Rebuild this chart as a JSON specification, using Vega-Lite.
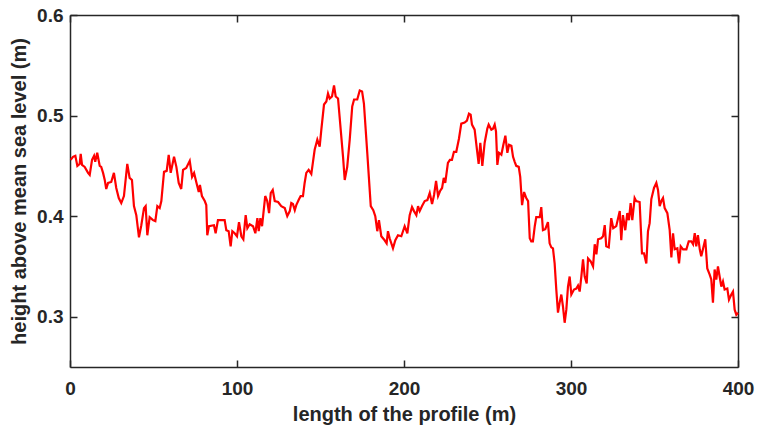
{
  "$schema": "https://vega.github.io/schema/vega-lite/v6.json",
  "width": 668,
  "height": 352,
  "autosize": "none",
  "padding": {"left": 70, "top": 15, "right": 23, "bottom": 61},
  "background": "white",
  "data": {"values": [
    {"x":0.4,"y":0.456},{"x":1.8,"y":0.459},{"x":3.2,"y":0.460},{"x":4.4,"y":0.450},{"x":5.8,"y":0.452},{"x":6.4,"y":0.462},{"x":7.2,"y":0.451},{"x":8.8,"y":0.449},{"x":10.8,"y":0.443},{"x":11.8,"y":0.441},
    {"x":13.2,"y":0.456},{"x":14.4,"y":0.460},{"x":15.1,"y":0.454},{"x":16.3,"y":0.463},{"x":17.8,"y":0.450},{"x":18.7,"y":0.449},{"x":19.8,"y":0.443},{"x":20.8,"y":0.436},{"x":21.7,"y":0.427},{"x":22.8,"y":0.433},
    {"x":24.7,"y":0.434},{"x":26.3,"y":0.443},{"x":27.7,"y":0.428},{"x":29.2,"y":0.418},{"x":30.7,"y":0.413},{"x":32.3,"y":0.420},{"x":34.3,"y":0.452},{"x":35.7,"y":0.438},{"x":37.1,"y":0.436},{"x":38.3,"y":0.410},
    {"x":39.7,"y":0.401},{"x":41.3,"y":0.379},{"x":42.7,"y":0.391},{"x":44.3,"y":0.408},{"x":45.3,"y":0.410},{"x":46.3,"y":0.381},{"x":47.7,"y":0.399},{"x":49.7,"y":0.396},{"x":51.1,"y":0.395},{"x":52.3,"y":0.410},
    {"x":53.7,"y":0.408},{"x":54.7,"y":0.415},{"x":56.3,"y":0.444},{"x":57.9,"y":0.445},{"x":59.1,"y":0.461},{"x":60.3,"y":0.443},{"x":62.3,"y":0.459},{"x":63.7,"y":0.449},{"x":65.1,"y":0.433},{"x":66.6,"y":0.427},
    {"x":67.7,"y":0.446},{"x":69.6,"y":0.448},{"x":71.7,"y":0.455},{"x":73.1,"y":0.439},{"x":74.3,"y":0.443},{"x":75.6,"y":0.434},{"x":77.1,"y":0.424},{"x":77.8,"y":0.431},{"x":79.0,"y":0.420},{"x":80.7,"y":0.415},
    {"x":81.6,"y":0.411},{"x":82.2,"y":0.381},{"x":83.2,"y":0.390},{"x":86.2,"y":0.391},{"x":87.2,"y":0.383},{"x":88.6,"y":0.396},{"x":91.6,"y":0.396},{"x":92.6,"y":0.396},{"x":93.6,"y":0.386},{"x":95.0,"y":0.385},
    {"x":96.2,"y":0.370},{"x":97.2,"y":0.385},{"x":98.6,"y":0.383},{"x":100.0,"y":0.380},{"x":101.2,"y":0.394},{"x":102.6,"y":0.380},{"x":103.8,"y":0.377},{"x":105.2,"y":0.401},{"x":106.2,"y":0.388},{"x":107.6,"y":0.392},
    {"x":109.6,"y":0.390},{"x":111.0,"y":0.383},{"x":112.2,"y":0.398},{"x":113.0,"y":0.385},{"x":114.0,"y":0.398},{"x":115.0,"y":0.390},{"x":115.7,"y":0.401},{"x":116.9,"y":0.420},{"x":118.1,"y":0.415},{"x":119.2,"y":0.403},
    {"x":120.2,"y":0.423},{"x":121.4,"y":0.426},{"x":122.6,"y":0.415},{"x":124.6,"y":0.414},{"x":126.5,"y":0.410},{"x":128.6,"y":0.408},{"x":130.1,"y":0.400},{"x":131.6,"y":0.405},{"x":132.5,"y":0.413},{"x":133.5,"y":0.412},
    {"x":134.6,"y":0.406},{"x":135.5,"y":0.411},{"x":136.9,"y":0.416},{"x":138.1,"y":0.420},{"x":139.5,"y":0.420},{"x":140.5,"y":0.433},{"x":141.5,"y":0.443},{"x":142.9,"y":0.446},{"x":144.5,"y":0.442},{"x":145.5,"y":0.454},
    {"x":146.5,"y":0.466},{"x":148.1,"y":0.476},{"x":149.5,"y":0.469},{"x":150.5,"y":0.486},{"x":152.1,"y":0.511},{"x":153.5,"y":0.514},{"x":154.5,"y":0.522},{"x":155.5,"y":0.517},{"x":156.9,"y":0.519},{"x":158.1,"y":0.530},
    {"x":159.1,"y":0.519},{"x":160.5,"y":0.517},{"x":162.1,"y":0.486},{"x":163.5,"y":0.459},{"x":164.5,"y":0.436},{"x":166.0,"y":0.449},{"x":167.5,"y":0.476},{"x":169.0,"y":0.509},{"x":170.1,"y":0.516},{"x":172.0,"y":0.516},
    {"x":173.5,"y":0.525},{"x":174.9,"y":0.524},{"x":176.0,"y":0.512},{"x":178.0,"y":0.463},{"x":180.1,"y":0.410},{"x":181.6,"y":0.406},{"x":182.8,"y":0.400},{"x":184.0,"y":0.385},{"x":185.0,"y":0.396},{"x":186.4,"y":0.380},
    {"x":188.4,"y":0.376},{"x":189.6,"y":0.373},{"x":190.4,"y":0.385},{"x":191.4,"y":0.378},{"x":193.4,"y":0.368},{"x":194.8,"y":0.376},{"x":196.4,"y":0.381},{"x":198.4,"y":0.380},{"x":200.4,"y":0.390},{"x":202.0,"y":0.383},
    {"x":203.4,"y":0.401},{"x":204.8,"y":0.409},{"x":206.0,"y":0.405},{"x":207.4,"y":0.401},{"x":208.4,"y":0.410},{"x":209.4,"y":0.405},{"x":210.8,"y":0.410},{"x":212.4,"y":0.415},{"x":214.0,"y":0.416},{"x":215.4,"y":0.423},
    {"x":216.8,"y":0.412},{"x":218.0,"y":0.421},{"x":219.2,"y":0.435},{"x":220.4,"y":0.420},{"x":221.6,"y":0.425},{"x":222.8,"y":0.428},{"x":223.8,"y":0.438},{"x":224.7,"y":0.433},{"x":226.3,"y":0.453},{"x":227.5,"y":0.456},
    {"x":228.7,"y":0.456},{"x":229.9,"y":0.464},{"x":231.3,"y":0.464},{"x":232.9,"y":0.477},{"x":234.3,"y":0.492},{"x":236.3,"y":0.493},{"x":237.7,"y":0.495},{"x":238.9,"y":0.502},{"x":239.9,"y":0.501},{"x":240.7,"y":0.491},
    {"x":242.3,"y":0.486},{"x":243.7,"y":0.466},{"x":244.7,"y":0.452},{"x":245.7,"y":0.473},{"x":246.9,"y":0.450},{"x":248.3,"y":0.473},{"x":249.9,"y":0.487},{"x":250.7,"y":0.491},{"x":252.3,"y":0.486},{"x":253.3,"y":0.487},
    {"x":254.3,"y":0.491},{"x":255.1,"y":0.484},{"x":255.9,"y":0.451},{"x":256.9,"y":0.463},{"x":258.3,"y":0.461},{"x":259.5,"y":0.471},{"x":260.7,"y":0.480},{"x":261.9,"y":0.463},{"x":262.9,"y":0.471},{"x":264.3,"y":0.470},
    {"x":265.3,"y":0.459},{"x":266.3,"y":0.454},{"x":267.2,"y":0.450},{"x":268.7,"y":0.449},{"x":269.6,"y":0.439},{"x":270.7,"y":0.411},{"x":271.9,"y":0.424},{"x":273.2,"y":0.418},{"x":274.3,"y":0.415},{"x":275.3,"y":0.378},
    {"x":276.2,"y":0.375},{"x":277.2,"y":0.375},{"x":278.3,"y":0.390},{"x":279.2,"y":0.399},{"x":281.3,"y":0.399},{"x":282.2,"y":0.409},{"x":283.2,"y":0.386},{"x":284.6,"y":0.387},{"x":286.2,"y":0.394},{"x":287.2,"y":0.373},
    {"x":288.2,"y":0.369},{"x":289.2,"y":0.368},{"x":290.2,"y":0.353},{"x":291.2,"y":0.327},{"x":292.2,"y":0.304},{"x":293.2,"y":0.314},{"x":294.2,"y":0.322},{"x":295.2,"y":0.310},{"x":296.2,"y":0.294},{"x":297.2,"y":0.307},
    {"x":298.2,"y":0.330},{"x":299.2,"y":0.340},{"x":300.2,"y":0.322},{"x":301.8,"y":0.327},{"x":303.2,"y":0.328},{"x":304.2,"y":0.331},{"x":305.2,"y":0.325},{"x":306.2,"y":0.340},{"x":307.2,"y":0.357},{"x":308.2,"y":0.340},
    {"x":309.4,"y":0.333},{"x":310.2,"y":0.358},{"x":311.8,"y":0.355},{"x":313.2,"y":0.350},{"x":314.2,"y":0.372},{"x":315.2,"y":0.362},{"x":316.2,"y":0.377},{"x":318.1,"y":0.378},{"x":319.2,"y":0.380},{"x":320.2,"y":0.391},
    {"x":321.1,"y":0.370},{"x":322.6,"y":0.369},{"x":324.1,"y":0.398},{"x":325.3,"y":0.388},{"x":327.1,"y":0.390},{"x":329.2,"y":0.405},{"x":330.1,"y":0.376},{"x":331.1,"y":0.401},{"x":332.5,"y":0.386},{"x":333.7,"y":0.403},
    {"x":334.7,"y":0.396},{"x":335.7,"y":0.413},{"x":336.7,"y":0.396},{"x":338.1,"y":0.418},{"x":339.0,"y":0.415},{"x":341.1,"y":0.414},{"x":342.5,"y":0.363},{"x":343.7,"y":0.363},{"x":345.1,"y":0.353},{"x":346.1,"y":0.385},
    {"x":347.1,"y":0.393},{"x":348.1,"y":0.417},{"x":349.7,"y":0.428},{"x":351.1,"y":0.433},{"x":352.1,"y":0.426},{"x":353.1,"y":0.410},{"x":354.1,"y":0.415},{"x":355.1,"y":0.418},{"x":356.1,"y":0.408},{"x":357.7,"y":0.403},
    {"x":359.1,"y":0.386},{"x":360.1,"y":0.359},{"x":361.1,"y":0.383},{"x":362.1,"y":0.367},{"x":363.7,"y":0.368},{"x":364.7,"y":0.353},{"x":365.7,"y":0.370},{"x":367.1,"y":0.367},{"x":369.1,"y":0.367},{"x":370.5,"y":0.375},
    {"x":372.0,"y":0.375},{"x":373.1,"y":0.372},{"x":374.1,"y":0.383},{"x":375.0,"y":0.370},{"x":376.0,"y":0.381},{"x":377.1,"y":0.367},{"x":378.0,"y":0.360},{"x":379.0,"y":0.367},{"x":380.4,"y":0.377},{"x":381.6,"y":0.348},
    {"x":383.0,"y":0.342},{"x":384.0,"y":0.337},{"x":385.0,"y":0.314},{"x":386.0,"y":0.347},{"x":387.0,"y":0.337},{"x":388.0,"y":0.350},{"x":389.0,"y":0.340},{"x":390.0,"y":0.330},{"x":391.0,"y":0.335},{"x":392.0,"y":0.327},
    {"x":393.6,"y":0.328},{"x":394.6,"y":0.317},{"x":396.0,"y":0.322},{"x":397.0,"y":0.325},{"x":398.0,"y":0.307},{"x":399.0,"y":0.302},{"x":400.0,"y":0.304}
  ]},
  "layer": [
    {
      "mark": {"type": "line", "color": "#ff0000", "strokeWidth": 2.2, "interpolate": "linear"},
      "encoding": {
        "x": {"field": "x", "type": "quantitative",
          "scale": {"domain": [0, 400], "nice": false, "zero": false},
          "axis": {"orient": "bottom", "values": [0, 100, 200, 300, 400], "title": "length of the profile (m)",
            "tickSize": -7, "labelPadding": 19, "titlePadding": 6, "titleFontSize": 20, "labelFlush": false, "labelOverlap": false}},
        "y": {"field": "y", "type": "quantitative",
          "scale": {"domain": [0.25, 0.6], "nice": false, "zero": false},
          "axis": {"orient": "left", "values": [0.3, 0.4, 0.5, 0.6], "format": ".1f", "title": "height above mean sea level (m)",
            "tickSize": -7, "labelPadding": 14, "titlePadding": 7, "titleFontSize": 20, "labelFlush": false, "labelOverlap": false}}
      }
    },
    {
      "mark": {"type": "line", "strokeOpacity": 0},
      "encoding": {
        "x": {"field": "x", "type": "quantitative",
          "scale": {"domain": [0, 400], "nice": false, "zero": false},
          "axis": {"orient": "top", "values": [0, 100, 200, 300, 400], "title": null, "labels": false, "tickSize": -7}},
        "y": {"field": "y", "type": "quantitative",
          "scale": {"domain": [0.25, 0.6], "nice": false, "zero": false},
          "axis": {"orient": "right", "values": [0.3, 0.4, 0.5, 0.6], "title": null, "labels": false, "tickSize": -7}}
      }
    }
  ],
  "resolve": {"axis": {"x": "independent", "y": "independent"}},
  "config": {
    "view": {"stroke": null},
    "axis": {
      "grid": false,
      "domainColor": "#262626", "domainWidth": 1.5,
      "tickColor": "#262626", "tickWidth": 1.5,
      "labelFont": "Liberation Sans", "labelFontSize": 19, "labelFontWeight": "bold", "labelColor": "#262626",
      "titleFont": "Liberation Sans", "titleFontSize": 20, "titleFontWeight": "bold", "titleColor": "#262626"
    }
  }
}
